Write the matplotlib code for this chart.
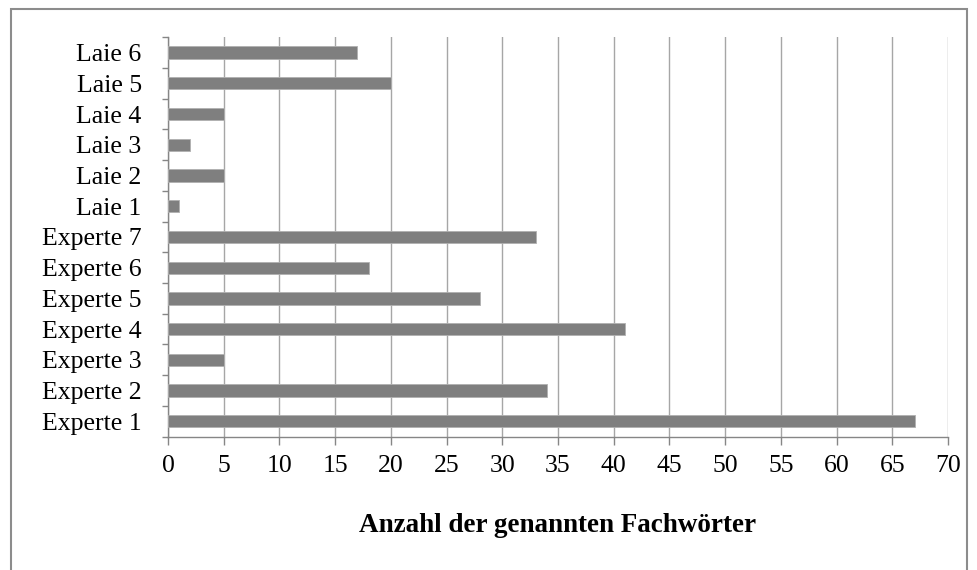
import matplotlib.pyplot as plt
from matplotlib.patches import Rectangle
from matplotlib.ticker import FixedLocator

# Daten (von unten nach oben)
categories = ['Experte 1', 'Experte 2', 'Experte 3', 'Experte 4', 'Experte 5',
              'Experte 6', 'Experte 7', 'Laie 1', 'Laie 2', 'Laie 3',
              'Laie 4', 'Laie 5', 'Laie 6']
values = [67, 34, 5, 41, 28, 18, 33, 1, 5, 2, 5, 20, 17]
x_ticks = list(range(0, 75, 5))

plt.rcParams['font.family'] = ['Liberation Serif', 'DejaVu Serif']

fig = plt.figure(figsize=(9.77, 5.70), dpi=100)
ax = fig.add_axes([0.172, 0.234, 0.7983, 0.7006])

ypos = list(range(len(categories)))
ax.barh(ypos, values, height=0.4, color='#7f7f7f', edgecolor='#b0b0b0',
        linewidth=0.6, zorder=3)

ax.set_xlim(0, 70)
ax.set_ylim(-0.5, len(categories) - 0.5)
ax.set_xticks(x_ticks)
ax.set_yticks(ypos)
ax.set_yticklabels(categories)
ax.yaxis.set_minor_locator(FixedLocator([i - 0.5 for i in range(len(categories) + 1)]))

ax.grid(axis='x', color='#a6a6a6', linewidth=1.0, zorder=0)
for s in ['top', 'right']:
    ax.spines[s].set_visible(False)
for s in ['left', 'bottom']:
    ax.spines[s].set_color('#868686')
    ax.spines[s].set_linewidth(1.0)

ax.tick_params(axis='y', which='major', length=0, pad=19, labelsize=18.5)
ax.tick_params(axis='y', which='minor', length=4, color='#868686', width=1.0)
ax.tick_params(axis='x', which='major', length=6, color='#868686', width=1.0,
               pad=7, labelsize=18.5)

ax.set_xlabel('Anzahl der genannten Fachwörter', fontsize=19.5, fontweight='bold',
              labelpad=26)

# Rahmen um die ganze Grafik
fig.patches.append(Rectangle((11 / 977, -0.05), 956 / 977, 1.05 - 9 / 570,
                             transform=fig.transFigure, fill=False,
                             edgecolor='#8c8c8c', linewidth=1.5))

fig.savefig('out.png', dpi=100)
